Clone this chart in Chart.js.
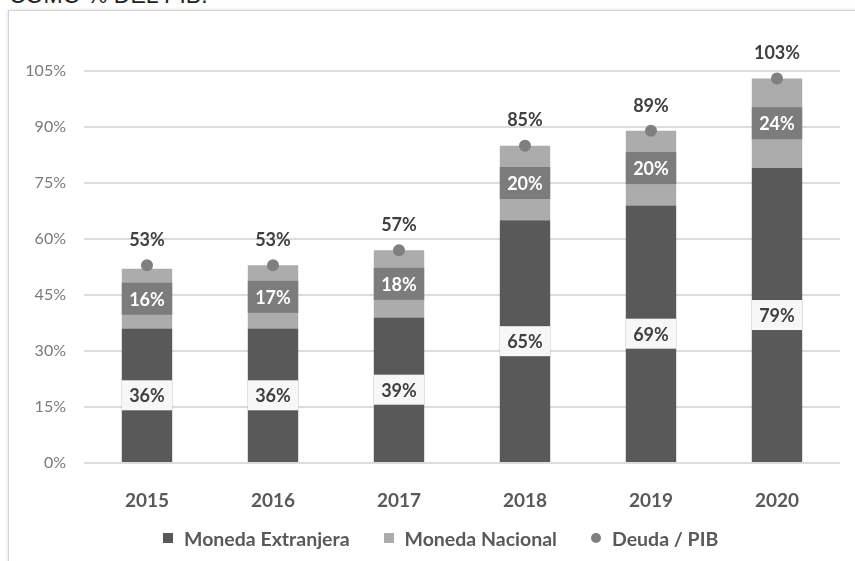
<!DOCTYPE html>
<html>
<head>
<meta charset="utf-8">
<script src="https://cdn.jsdelivr.net/npm/chart.js@4"></script>
<style>
  html, body { margin: 0; padding: 0; background: #fff; overflow: hidden; }
  body { width: 855px; height: 561px; position: relative; }
  #title { position: absolute; left: 9px; top: -16px; font: 23px/23px "Liberation Sans", Arial, sans-serif; color: #222; white-space: nowrap; }
  #box { position: absolute; left: 8px; top: 10px; width: 860px; height: 570px; border: 1px solid #d4d4d4; box-shadow: 0 0 3px rgba(0,0,0,0.15); background: #fff; }
  #wrap { position: absolute; left: 9px; top: 11px; width: 846px; height: 550px; }
  #legend { position: absolute; left: 163px; top: 526px; height: 24px; display: flex; align-items: center; font: bold 19.5px Lato, sans-serif; color: #595959; white-space: nowrap; }
  #legend .item { display: flex; align-items: center; margin-right: 34px; }
  #legend .mark { width: 10px; height: 10px; margin-right: 11px; }
</style>
</head>
<body>
<div id="title">COMO % DEL PIB.</div>
<div id="box"></div>
<div id="wrap"><canvas id="myChart"></canvas></div>
<div id="legend"></div>
<script>
const years = ['2015', '2016', '2017', '2018', '2019', '2020']
const extranjera = [36, 36, 39, 65, 69, 79]
const nacional = [16, 17, 18, 20, 20, 24]
const deuda = [53, 53, 57, 85, 89, 103]

const DARK = '#595959'
const LIGHT = '#acacac'
const DOT = '#7f7f7f'
const FONT = 'Lato, "Open Sans", sans-serif'

// labels: white box on the dark part, grey box on the light part, text above the dot
const labelPlugin = {
  id: 'labels',
  afterDatasetsDraw(chart) {
    const ctx = chart.ctx
    ctx.save()
    ctx.textAlign = 'center'
    ctx.textBaseline = 'middle'
    ctx.font = 'bold 18px ' + FONT
    chart.getDatasetMeta(0).data.forEach((bar, i) => {
      const cy = (bar.y + bar.base) / 2
      ctx.fillStyle = '#f7f7f7'
      ctx.fillRect(bar.x - bar.width / 2, cy - 15, bar.width, 30)
      ctx.fillStyle = '#404040'
      ctx.fillText(extranjera[i] + '%', bar.x, cy + 1)
    })
    chart.getDatasetMeta(1).data.forEach((bar, i) => {
      const cy = (bar.y + bar.base) / 2
      ctx.fillStyle = '#7c7c7c'
      ctx.fillRect(bar.x - bar.width / 2, cy - 16, bar.width, 32)
      ctx.fillStyle = '#ffffff'
      ctx.fillText(nacional[i] + '%', bar.x, cy + 1)
    })
    chart.getDatasetMeta(2).data.forEach((pt, i) => {
      ctx.fillStyle = '#404040'
      ctx.fillText(deuda[i] + '%', pt.x, pt.y - 25)
    })
    ctx.restore()
  }
}

const chart = new Chart('myChart', {
  type: 'bar',
  data: {
    labels: years,
    datasets: [{
      label: 'Moneda Extranjera',
      data: extranjera,
      backgroundColor: DARK,
      order: 2
    }, {
      label: 'Moneda Nacional',
      data: nacional,
      backgroundColor: LIGHT,
      order: 2
    }, {
      type: 'line',
      label: 'Deuda / PIB',
      data: deuda,
      showLine: false,
      pointRadius: 6,
      pointHoverRadius: 6,
      pointStyle: 'circle',
      backgroundColor: DOT,
      borderColor: DOT,
      borderWidth: 0,
      order: 1
    }]
  },
  options: {
    responsive: true,
    maintainAspectRatio: false,
    animation: false,
    datasets: { bar: { barPercentage: 0.4, categoryPercentage: 1 } },
    layout: { padding: { top: 60, right: 15, bottom: 48, left: 0 } },
    scales: {
      x: {
        stacked: true,
        afterFit: s => { s.height = 50 },
        grid: { display: false },
        border: { display: false },
        ticks: { color: DARK, font: { family: FONT, size: 19, weight: 'bold' }, padding: 18 }
      },
      y: {
        stacked: true,
        min: 0,
        max: 105,
        afterFit: s => { s.width = 75 },
        ticks: { stepSize: 15, color: '#7a7a7a', padding: 18, font: { family: FONT, size: 16 }, callback: v => v + '%' },
        grid: { color: '#dcdcdc', lineWidth: 2, drawTicks: false },
        border: { display: false }
      }
    },
    plugins: {
      tooltip: { enabled: false },
      legend: { display: false }
    }
  },
  plugins: [labelPlugin]
})

// legend in html, marks use the dataset colours
const legend = document.getElementById('legend')
chart.data.datasets.forEach(ds => {
  const item = document.createElement('div')
  item.className = 'item'
  const mark = document.createElement('span')
  mark.className = 'mark'
  mark.style.background = ds.backgroundColor
  if (ds.type === 'line') mark.style.borderRadius = '50%'
  item.appendChild(mark)
  item.appendChild(document.createTextNode(ds.label))
  legend.appendChild(item)
})
</script>
</body>
</html>
